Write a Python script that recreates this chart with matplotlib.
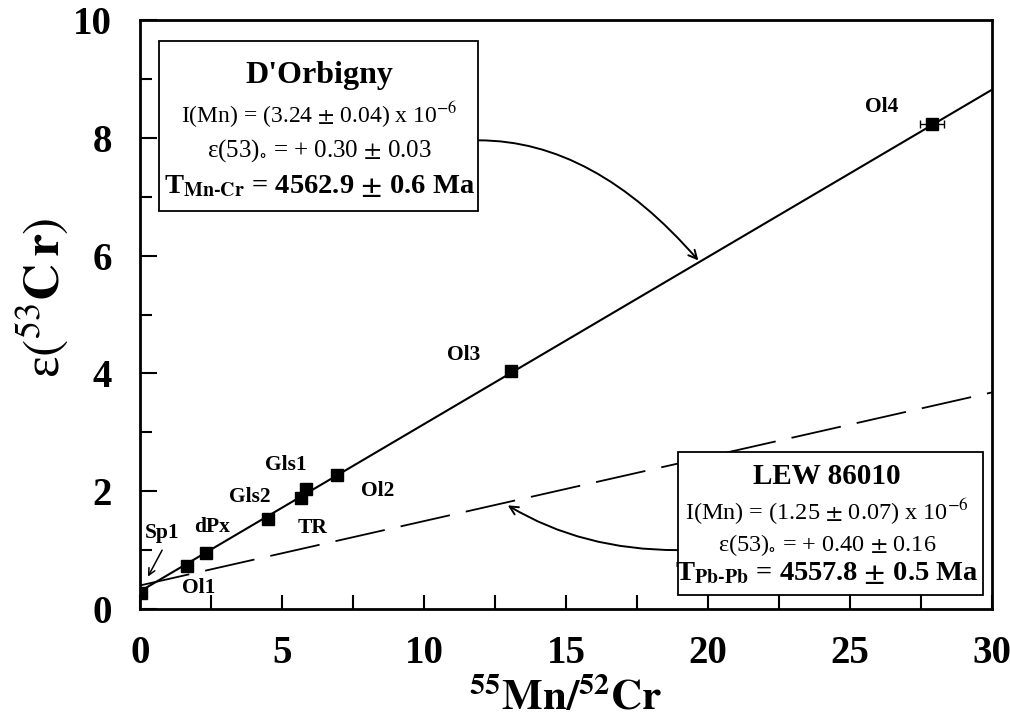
import matplotlib
matplotlib.use('Agg')
import matplotlib.pyplot as plt
import numpy as np
from matplotlib.patches import Rectangle

plt.rcParams['font.family'] = ['Liberation Serif', 'DejaVu Serif']
plt.rcParams['mathtext.fontset'] = 'stix'

echantillons = ['Sp1', 'Ol1', 'dPx', 'Gls2', 'TR', 'Gls1', 'Ol2', 'Ol3', 'Ol4']
mn_cr = [0.05, 1.66, 2.33, 4.52, 5.68, 5.86, 6.92, 13.06, 27.9]
eps53 = [0.28, 0.73, 0.95, 1.53, 1.89, 2.03, 2.28, 4.04, 8.23]
mn_cr_err = [0, 0, 0, 0, 0, 0, 0, 0, 0.42]

# Isochrones : ordonnée à l'origine et pente
iso_dorbigny = (0.30, 0.284)
iso_lew = (0.40, 0.1093)

# Position des étiquettes (x, y en données)
pos_etiq = {
    'Sp1': (0.78, 1.29), 'Ol1': (2.05, 0.36), 'dPx': (2.54, 1.40),
    'Gls2': (3.85, 1.91), 'TR': (6.07, 1.38), 'Gls1': (5.15, 2.44),
    'Ol2': (8.37, 2.01), 'Ol3': (11.40, 4.31), 'Ol4': (26.12, 8.52),
}

fig = plt.figure(figsize=(10.1, 7.22), dpi=100)
ax = fig.add_axes([0.1386, 0.1565, 0.8436, 0.8155])

xs = np.array([0, 30])
ax.plot(xs, iso_dorbigny[0] + iso_dorbigny[1] * xs, color='black', lw=1.5, zorder=2)
ax.plot(xs, iso_lew[0] + iso_lew[1] * xs, color='black', lw=1.3,
        linestyle=(0, (28, 9)), zorder=2)

ax.errorbar(mn_cr, eps53, xerr=mn_cr_err, fmt='s', color='black', ms=9,
            ecolor='black', elinewidth=1, capsize=3, zorder=3)

for nom in echantillons:
    x, y = pos_etiq[nom]
    ax.text(x, y, nom, fontsize=15.5, weight='bold', ha='center', va='center')

# flèche Sp1
ax.annotate('', xy=(0.28, 0.55), xytext=(0.78, 1.0),
            arrowprops=dict(arrowstyle='->', color='black', lw=1.1,
                            shrinkA=0, shrinkB=0, mutation_scale=12))

# flèches courbes depuis les encadrés
ax.annotate('', xy=(19.66, 5.92), xytext=(11.93, 7.96),
            arrowprops=dict(arrowstyle='->', color='black', lw=1.4,
                            shrinkA=0, shrinkB=0, mutation_scale=15,
                            connectionstyle='angle3,angleA=0,angleB=-49'))
ax.annotate('', xy=(12.95, 1.76), xytext=(18.92, 1.0),
            arrowprops=dict(arrowstyle='->', color='black', lw=1.4,
                            shrinkA=0, shrinkB=0, mutation_scale=15,
                            connectionstyle='angle3,angleA=0,angleB=-31'))

# Encadré D'Orbigny
ax.add_patch(Rectangle((0.0223, 0.676), 0.375, 0.288, transform=ax.transAxes,
                       facecolor='white', edgecolor='black', lw=1.3, zorder=4))
cx = 0.211
ax.text(cx, 0.906, "D'Orbigny", transform=ax.transAxes, fontsize=23,
        weight='bold', ha='center', va='center', zorder=5)
ax.text(cx, 0.840, r'I(Mn) = (3.24 $\pm$ 0.04) x 10$^{-6}$', transform=ax.transAxes,
        fontsize=17, ha='center', va='center', zorder=5)
ax.text(cx, 0.779, r'ε(53)$_{\circ}$ = + 0.30 $\pm$ 0.03', transform=ax.transAxes,
        fontsize=18, ha='center', va='center', zorder=5)
ax.text(cx, 0.719, r'T$_{\mathbf{Mn‐Cr}}$ = 4562.9 $\mathbf{\pm}$ 0.6 Ma',
        transform=ax.transAxes, fontsize=20.5, weight='bold', ha='center',
        va='center', zorder=5)

# Encadré LEW 86010
ax.add_patch(Rectangle((0.631, 0.024), 0.358, 0.242, transform=ax.transAxes,
                       facecolor='white', edgecolor='black', lw=1.3, zorder=4))
cx = 0.806
ax.text(cx, 0.225, 'LEW 86010', transform=ax.transAxes, fontsize=21,
        weight='bold', ha='center', va='center', zorder=5)
ax.text(cx, 0.165, r'I(Mn) = (1.25 $\pm$ 0.07) x 10$^{-6}$', transform=ax.transAxes,
        fontsize=17.5, ha='center', va='center', zorder=5)
ax.text(cx, 0.109, r'ε(53)$_{\circ}$ = + 0.40 $\pm$ 0.16', transform=ax.transAxes,
        fontsize=17.5, ha='center', va='center', zorder=5)
ax.text(cx, 0.061, r'T$_{\mathbf{Pb‐Pb}}$ = 4557.8 $\mathbf{\pm}$ 0.5 Ma',
        transform=ax.transAxes, fontsize=20.5, weight='bold', ha='center',
        va='center', zorder=5)

ax.set_xlim(0, 30)
ax.set_ylim(0, 10)
ax.set_xticks([0, 5, 10, 15, 20, 25, 30])
ax.set_xticks(np.arange(2.5, 30, 5), minor=True)
ax.set_yticks([0, 2, 4, 6, 8, 10])
ax.set_yticks([1, 3, 5, 7, 9], minor=True)
ax.tick_params(axis='both', which='both', direction='in', width=1.5,
               labelsize=28)
ax.tick_params(axis='x', which='both', length=10, pad=19)
ax.tick_params(axis='y', which='major', length=12, pad=20)
ax.tick_params(axis='y', which='minor', length=8.5)
for lab in ax.get_xticklabels() + ax.get_yticklabels():
    lab.set_fontweight('bold')
for sp in ax.spines.values():
    sp.set_linewidth(2)

ax.set_xlabel(r'$\mathbf{^{55}Mn/^{52}Cr}$', fontsize=31, weight='bold',
              va='baseline')
ax.xaxis.set_label_coords(0.5, -0.172)
ax.set_ylabel(r'ε$(^{53}\mathbf{C\,r})$', fontsize=37, va='center')
ax.yaxis.set_label_coords(-0.115, 0.528)

fig.savefig('out.png', dpi=100)
